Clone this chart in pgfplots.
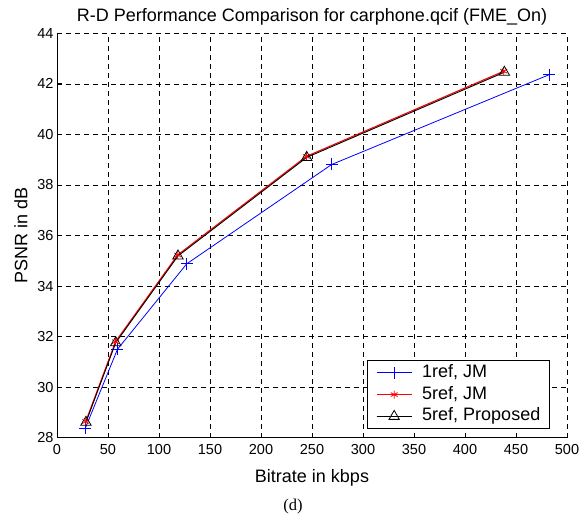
\documentclass[border=0pt]{standalone}
\usepackage{fontspec}
\setmainfont{Liberation Sans}
\newfontfamily\capfont{Liberation Serif}
\usepackage{pgfplots}
\pgfplotsset{compat=1.18}

% rate-distortion points: bitrate (kbps), PSNR (dB)
\pgfplotstableread{
x y
27.8 28.38
59.3 31.50
127.2 34.88
269.3 38.81
482.4 42.36
}\oneRefJM
\pgfplotstableread{
x y
28.2 28.64
57.4 31.80
118.3 35.23
244.5 39.13
438.0 42.50
}\fiveRefJM
\pgfplotstableread{
x y
28.4 28.61
57.6 31.76
118.6 35.19
244.8 39.09
438.6 42.46
}\fiveRefProposed

\newcommand\lgap{\hspace*{10pt}}

\begin{document}
\begin{tikzpicture}
\begin{axis}[
  at={(57pt,82.3pt)}, anchor=south west,
  scale only axis, width=510pt, height=404.4pt,
  xmin=0, xmax=500, ymin=28, ymax=44,
  xtick={0,50,...,500}, ytick={28,30,...,44},
  axis x line*=bottom, axis y line*=left,
  tick align=inside, major tick length=5pt,
  grid=major,
  major grid style={black, line width=0.6pt, dash pattern=on 5pt off 4pt},
  axis line style={black, line width=0.8pt},
  tick style={black, line width=0.8pt},
  /pgf/number format/assume math mode=true,
  tick label style={font=\fontsize{14.5}{17}\selectfont},
  xticklabel style={yshift=-3.5pt},
  title={R-D Performance Comparison for carphone.qcif (FME\_On)},
  title style={font=\fontsize{18}{21}\selectfont, at={(axis description cs:0.5,1.0148)}, anchor=base},
  xlabel={Bitrate in kbps},
  xlabel style={font=\fontsize{18}{21}\selectfont, at={(axis description cs:0.5,-0.1113)}, anchor=base},
  ylabel={PSNR in dB},
  ylabel style={font=\fontsize{18}{21}\selectfont, at={(axis description cs:-0.0706,0.5)}, anchor=center},
  legend cell align=left,
  legend image code/.code={\draw[mark repeat=2,mark phase=2,#1] plot coordinates {(0pt,0pt) (17.5pt,0pt) (35pt,0pt)};},
  legend style={at={(axis description cs:0.6073,0.0208)}, anchor=south west,
    font=\fontsize{18}{21}\selectfont, draw=black, line width=0.8pt, fill=white,
    inner xsep=9pt, inner ysep=4.4pt, row sep=5.6pt,
    nodes={inner sep=0pt, inner xsep=0pt, text height=12.6pt, text depth=3.6pt}},
]
\addplot[blue, line width=0.8pt, mark=+, mark size=6pt, mark options={line width=0.8pt}] table[x=x,y=y] {\oneRefJM};
\addlegendentry{\lgap 1ref, JM}
\addplot[red, line width=1.1pt, mark=asterisk, mark size=4pt, mark options={line width=0.8pt}] table[x=x,y=y] {\fiveRefJM};
\addlegendentry{\lgap 5ref, JM}
\addplot[black, line width=0.9pt, mark=triangle, mark size=6pt, mark options={line width=0.8pt}] table[x=x,y=y] {\fiveRefProposed};
\addlegendentry{\lgap 5ref, Proposed\hspace{6pt}}
\end{axis}
\node[anchor=base, font=\capfont\fontsize{16.5}{19}\selectfont] at (293pt,9.3pt) {(d)};
\path[use as bounding box] (0pt,0pt) rectangle (586pt,520pt);
\end{tikzpicture}
\end{document}
